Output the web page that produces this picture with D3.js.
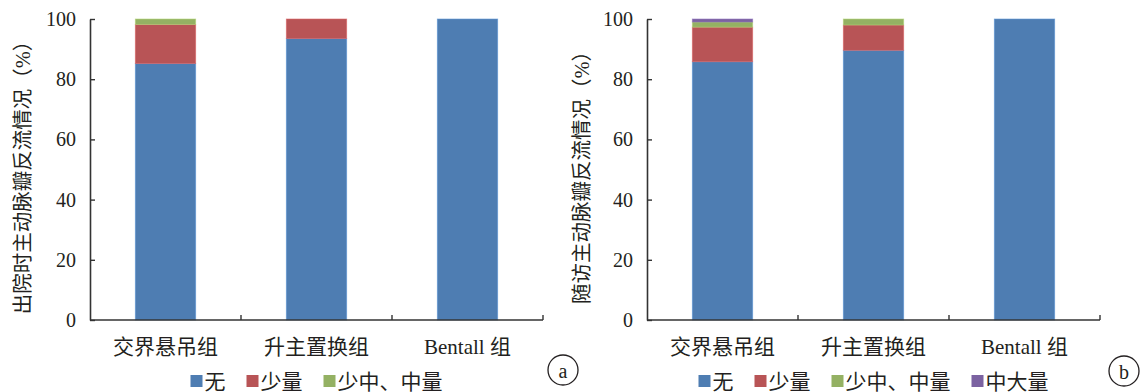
<!DOCTYPE html>
<html>
<head>
<meta charset="utf-8">
<script src="https://cdn.jsdelivr.net/npm/d3@7"></script>
<style>
  html, body { margin: 0; padding: 0; background: #fff; }
  svg { display: block; }
  text { fill: #231f20; font-family: "Liberation Serif", "Noto Sans CJK SC", serif; }
</style>
</head>
<body>
<svg id="chart" width="1142" height="392"></svg>
<script>
// Groups along the x axis
const categories = ["交界悬吊组", "升主置换组", "Bentall 组"];

// Regurgitation grades (stack order, bottom to top)
const seriesNames = ["无", "少量", "少中、中量", "中大量"];
const seriesColors = ["#4e7db2", "#b85456", "#94b163", "#7b62a1"];

// Panel a: at discharge (%)
const dischargeNone     = [85.2, 93.5, 100];
const dischargeMild     = [13.0, 6.5, 0];
const dischargeModerate = [1.8, 0, 0];

// Panel b: at follow-up (%)
const followNone     = [85.8, 89.6, 100];
const followMild     = [11.5, 8.4, 0];
const followModerate = [1.7, 2.0, 0];
const followSevere   = [1.0, 0, 0];

const yTicks = [0, 20, 40, 60, 80, 100];

const panels = [
  {
    title: "出院时主动脉瓣反流情况（%）",
    tag: "a",
    series: [dischargeNone, dischargeMild, dischargeModerate],
    x0: 90, x1: 543, titleX: 23, tagX: 563, tagY: 370
  },
  {
    title: "随访主动脉瓣反流情况（%）",
    tag: "b",
    series: [followNone, followMild, followModerate, followSevere],
    x0: 647, x1: 1100, titleX: 582, tagX: 1124, tagY: 371
  }
];

const svg = d3.select("#chart");
const yTop = 19, yBottom = 320;
const y = d3.scaleLinear().domain([0, 100]).range([yBottom, yTop]);
const axisColor = "#333";

panels.forEach(p => {
  const g = svg.append("g");
  const x = d3.scaleBand().domain(categories).range([p.x0, p.x1])
    .paddingInner(0.6).paddingOuter(0.3);
  const step = x.step();

  // Build stack rows from the series arrays
  const keys = seriesNames.slice(0, p.series.length);
  const rows = categories.map((c, i) => {
    const r = { cat: c };
    keys.forEach((k, j) => { r[k] = p.series[j][i]; });
    return r;
  });
  const stacked = d3.stack().keys(keys)(rows);

  // Bars
  stacked.forEach((layer, j) => {
    g.append("g").selectAll("rect").data(layer).join("rect")
      .attr("x", d => x(d.data.cat))
      .attr("width", x.bandwidth())
      .attr("y", d => y(d[1]))
      .attr("height", d => y(d[0]) - y(d[1]))
      .attr("fill", seriesColors[j])
      .attr("stroke", d3.color(seriesColors[j]).brighter(0.5))
      .attr("stroke-width", d => (d[1] - d[0]) > 0 ? 0.8 : 0)
      .attr("stroke-opacity", 0.7);
  });

  // Y axis with inward ticks
  const yAxis = d3.axisLeft(y).tickValues(yTicks).tickSizeInner(-5).tickSizeOuter(0).tickPadding(14);
  const ya = g.append("g").attr("transform", `translate(${p.x0},0)`).call(yAxis);
  ya.select(".domain").attr("stroke", axisColor).attr("stroke-width", 1.6);
  ya.selectAll(".tick line").attr("stroke", axisColor).attr("stroke-width", 1.4);
  ya.selectAll(".tick text").attr("font-size", 20).attr("fill", "#231f20")
    .style("font-family", "'Liberation Serif', serif");

  // X axis line with inward ticks at the category boundaries
  const bounds = [p.x0].concat(categories.map(c => x(c) + x.bandwidth() / 2 + step / 2));
  g.append("line").attr("x1", p.x0).attr("x2", p.x1).attr("y1", yBottom).attr("y2", yBottom)
    .attr("stroke", axisColor).attr("stroke-width", 1.6);
  g.selectAll("line.xt").data(bounds.slice(1)).join("line").attr("class", "xt")
    .attr("x1", d => d).attr("x2", d => d).attr("y1", yBottom).attr("y2", yBottom - 5)
    .attr("stroke", axisColor).attr("stroke-width", 1.4);

  // Category labels
  g.selectAll("text.cat").data(categories).join("text").attr("class", "cat")
    .attr("x", d => x(d) + x.bandwidth() / 2)
    .attr("y", 354)
    .attr("text-anchor", "middle")
    .attr("font-size", 21)
    .text(d => d);

  // Y axis title
  g.append("text")
    .attr("transform", `translate(${p.titleX},${(yTop + yBottom) / 2 + 3}) rotate(-90)`)
    .attr("text-anchor", "middle")
    .attr("dominant-baseline", "central")
    .attr("font-size", 20.5)
    .text(p.title);

  // Legend, centred under the plot
  const leg = g.append("g");
  const items = keys.map((k, j) => ({ name: k, color: seriesColors[j] }));
  let cx = 0;
  items.forEach(it => {
    const ig = leg.append("g").attr("transform", `translate(${cx},0)`);
    ig.append("rect").attr("x", 0).attr("y", -6).attr("width", 12).attr("height", 12).attr("fill", it.color);
    const t = ig.append("text").attr("x", 14).attr("y", 7.5).attr("font-size", 21).text(it.name);
    cx += 14 + t.node().getComputedTextLength() + 21;
  });
  const legW = cx - 21;
  leg.attr("transform", `translate(${(p.x0 + p.x1) / 2 - legW / 2},381)`);

  // Panel tag in a circle
  g.append("circle").attr("cx", p.tagX).attr("cy", p.tagY).attr("r", 15)
    .attr("fill", "none").attr("stroke", "#231f20").attr("stroke-width", 1.3);
  g.append("text").attr("x", p.tagX).attr("y", p.tagY + 1)
    .attr("text-anchor", "middle").attr("dominant-baseline", "central")
    .attr("font-size", 20).style("font-family", "'Liberation Serif', serif")
    .text(p.tag);
});
</script>
</body>
</html>
